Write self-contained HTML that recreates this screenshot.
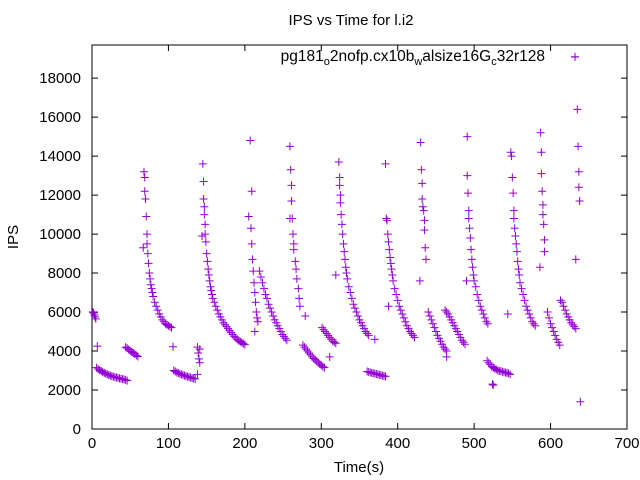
<!DOCTYPE html>
<html><head><meta charset="utf-8"><style>
body{margin:0;background:#fff}
svg{display:block;font-family:"Liberation Sans",sans-serif}
</style></head><body>
<svg id="chart" width="640" height="480" viewBox="0 0 640 480" xmlns="http://www.w3.org/2000/svg">
<rect width="640" height="480" fill="#fff"/>
<text x="351" y="25" text-anchor="middle" font-size="15">IPS vs Time for l.i2</text>
<text x="359" y="472" text-anchor="middle" font-size="15">Time(s)</text>
<text transform="translate(18,237) rotate(-90)" text-anchor="middle" font-size="15">IPS</text>
<g id="axes"></g>
<g id="marks"></g>
<g>
<text x="545" y="61" text-anchor="end" font-size="15.5">pg181<tspan font-size="11" dy="4">o</tspan><tspan dy="-4">2nofp.cx10b</tspan><tspan font-size="11" dy="4">w</tspan><tspan dy="-4">alsize16G</tspan><tspan font-size="11" dy="4">c</tspan><tspan dy="-4">32r128</tspan></text>
<path d="M571 57h8M575 53v8" stroke="#9400d3" stroke-width="1"/>
</g>
</svg>
<script>
const xTicks=[0,100,200,300,400,500,600,700];
const yTicks=[0,2000,4000,6000,8000,10000,12000,14000,16000,18000];
const times=[1,2,3,4,5,7,
6,8,10,12,14,16,18,20,22,24,26,28,30,32,34,36,38,40,42,44,46,
44,46,48,50,52,54,56,58,60,
67,68,69,69,70,71,72,72,73,74,75,76,77,78,79,80,82,84,86,88,90,92,94,96,98,100,102,104,
106,
107,109,111,113,115,117,119,121,123,125,127,129,131,133,135,
138,139,140,141,138,141,
144,145,146,146,147,147,148,148,149,150,151,152,153,154,155,156,157,158,160,162,164,166,168,170,172,174,176,178,180,182,184,186,188,190,192,194,196,198,200,
207,209,205,208,209,210,211,212,213,214,215,216,217,213,
219,221,223,225,227,229,231,233,235,237,239,241,243,245,247,249,251,253,255,
259,260,261,261,259,262,263,264,264,266,267,268,270,271,272,279,
276,278,280,282,284,286,288,290,292,294,296,298,300,302,304,
301,303,305,307,309,311,313,315,317,319,311,
319,323,324,324,325,325,326,327,328,329,330,331,332,333,334,336,338,340,342,344,346,348,350,352,354,356,358,360,362,370,
360,362,364,366,368,370,372,374,376,378,380,382,384,
388,384,385,386,387,388,389,390,391,392,393,394,396,398,400,402,404,406,408,410,412,414,416,418,420,422,
430,431,432,432,433,434,435,435,436,437,429,
440,442,444,446,448,450,452,454,456,458,460,462,464,464,
462,464,466,468,470,472,474,476,478,480,482,484,486,488,
491,491,492,493,493,494,495,496,497,498,499,500,502,504,506,508,510,512,514,516,518,490,
517,519,521,523,525,527,529,531,533,535,537,539,541,543,545,547,524,525,
548,549,550,551,552,552,553,554,555,556,557,558,559,560,562,564,566,568,570,572,574,576,578,580,544,
586,587,588,588,589,590,590,591,592,592,
596,598,600,602,604,606,608,610,612,
613,615,617,619,621,623,625,627,629,631,633,
632,635,636,637,637,638,633,639];
const ips=[6000,5950,5850,5750,5650,4250,
3150,3080,3020,2970,2920,2880,2840,2800,2770,2740,2710,2680,2660,2640,2620,2600,2580,2560,2540,2520,2480,
4200,4150,4080,4000,3950,3900,3850,3780,3720,
9300,13200,12900,12200,11800,10900,10000,9500,9000,8500,8000,7700,7400,7200,7000,6800,6500,6300,6100,5900,5750,5600,5500,5400,5350,5300,5250,5200,
4220,
3000,2950,2900,2870,2830,2800,2770,2740,2710,2690,2660,2640,2610,2590,2570,
4200,3900,3600,3400,2800,4100,
9900,13600,12700,11800,11400,11000,10500,10000,9600,9000,8600,8200,7900,7600,7300,7100,6900,6700,6500,6300,6100,5900,5750,5600,5450,5350,5250,5150,5050,4950,4850,4750,4680,4600,4530,4480,4430,4380,4330,
14800,12200,10900,10300,9500,8700,8100,7500,7000,6500,6000,5700,5500,5000,
8100,7800,7500,7200,6900,6700,6400,6200,6000,5800,5600,5450,5300,5150,5000,4850,4750,4650,4550,
14500,13300,12500,11700,10800,10800,10000,9500,9200,8600,8200,7700,7200,6700,6300,5800,
4300,4200,4100,4000,3900,3800,3700,3620,3550,3480,3400,3330,3270,3200,3150,
5200,5100,5000,4900,4800,4700,4600,4500,4450,4400,3700,
7900,13700,12900,12500,12000,11600,11000,10500,10000,9500,9100,8700,8300,8000,7700,7300,7000,6700,6400,6200,6000,5800,5600,5450,5300,5150,5000,4900,4800,4600,
2950,2930,2900,2880,2860,2840,2820,2800,2780,2760,2740,2720,2700,
6300,13600,10800,10700,10000,9600,9200,8800,8500,8200,7900,7600,7200,6900,6600,6300,6100,5900,5700,5500,5300,5150,5000,4900,4800,4700,
14700,13300,12600,11800,11400,11200,10700,10200,9300,8700,7600,
6000,5800,5600,5400,5200,5000,4800,4650,4500,4350,4200,4100,4000,3700,
6100,6000,5900,5750,5600,5450,5300,5150,5000,4850,4700,4550,4450,4350,
15000,13000,12100,11200,10800,10300,9800,9200,8700,8300,7900,7600,7300,6900,6600,6300,6100,5900,5700,5500,5400,7600,
3500,3400,3300,3200,3150,3100,3050,3000,2980,2960,2940,2920,2900,2880,2860,2800,2300,2250,
14200,14000,12900,12100,11200,10800,10300,9900,9500,9100,8600,8200,7900,7500,7200,6900,6600,6300,6100,5900,5700,5500,5400,5300,5900,
8300,15200,14200,13100,12200,11500,11000,10500,9700,9100,
6000,5700,5400,5200,5000,4800,4600,4450,4300,
6600,6500,6300,6100,5900,5750,5600,5450,5350,5250,5150,
19100,16400,14500,13200,12400,11700,8700,1400];
const L=92,R=627,T=45,B=429;
const xs=v=>L+(v-0)/(700-0)*(R-L);
const ys=v=>B-(v-0)/(19700-0)*(B-T);
const NS='http://www.w3.org/2000/svg';
const ax=document.getElementById('axes');
function mk(tag,attrs,parent){const e=document.createElementNS(NS,tag);for(const k in attrs)e.setAttribute(k,attrs[k]);parent.appendChild(e);return e;}
const frame=mk('rect',{x:L,y:T,width:R-L,height:B-T,fill:'none',stroke:'#000','stroke-width':1},ax);


xTicks.forEach(t=>{
 const x=xs(t);
 const tk=mk('path',{d:`M${x} ${B}v-6M${x} ${T}v6`,stroke:'#000','stroke-width':1},ax);
 
 
 const lb=mk('text',{x:x,y:B+19,'text-anchor':'middle','font-size':15},ax);
 lb.textContent=t;
 
 
});
yTicks.forEach(t=>{
 const y=ys(t);
 const tk=mk('path',{d:`M${L} ${y}h6M${R} ${y}h-6`,stroke:'#000','stroke-width':1},ax);
 
 
 const lb=mk('text',{x:L-11,y:y+5,'text-anchor':'end','font-size':15},ax);
 lb.textContent=t;
 
 
});
const mg=document.getElementById('marks');
let d='';
for(let i=0;i<times.length;i++){const x=xs(times[i]),y=ys(ips[i]);d+=`M${x-4} ${y}h8M${x} ${y-4}v8`;}
const pts=mk('path',{d:d,stroke:'#9400d3','stroke-width':1,fill:'none'},mg);


</script>
</body></html>
